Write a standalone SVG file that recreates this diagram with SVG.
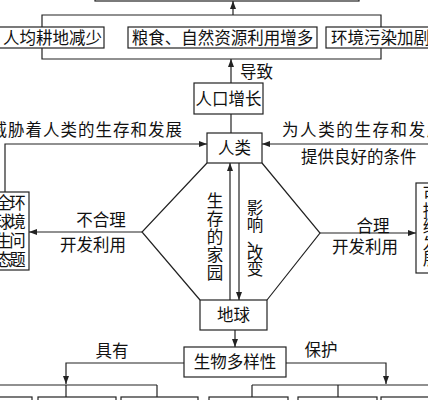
<svg xmlns="http://www.w3.org/2000/svg" width="428" height="400" viewBox="0 0 428 400">
<style>
rect{fill:#fff;stroke:#222;stroke-width:1.2}
.c path{fill:none;stroke:#222;stroke-width:1.2}
text{font-family:"Noto Sans CJK SC","Noto Sans",sans-serif;font-size:16.5px;fill:#111}
.m{text-anchor:middle}
.s{font-size:14px}
</style>
<defs>
<marker id="a" viewBox="0 0 8 6" refX="8" refY="3" markerWidth="8" markerHeight="6" markerUnits="userSpaceOnUse" orient="auto"><path d="M0,0L8,3L0,6z" fill="#222"/></marker>
</defs>
<g class="c" id="connectors">
<path d="M233,15V1" marker-end="url(#a)"/>
<path d="M42,27V15H381V27M42,48V59H381V48"/>
<path d="M231,83V59" marker-end="url(#a)"/>
<path d="M231,114V133"/>
<path d="M5,192V144H207" marker-end="url(#a)"/>
<path d="M428,144H262" marker-end="url(#a)"/>
<path d="M207,163L142,232L200,300M262,163L320,233L267,300"/>
<path d="M230,300V163" marker-end="url(#a)"/>
<path d="M239,163V300" marker-end="url(#a)"/>
<path d="M142,232H29" marker-end="url(#a)"/>
<path d="M320,233H416" marker-end="url(#a)"/>
<path d="M235,330V347" marker-end="url(#a)"/>
<path d="M184,363H66V384" marker-end="url(#a)"/>
<path d="M0,385H157M66,385V397M157,385V397"/>
<path d="M286,363H386V384" marker-end="url(#a)"/>
<path d="M252,385H428M252,385V397M338,385V397"/>
</g>
<g id="top"><rect x="95" y="-30" width="264" height="31"/></g>
<g id="n1"><rect x="-5" y="27" width="109" height="21"/><text x="3" y="44">人均耕地减少</text></g>
<g id="n2"><rect x="128" y="27" width="189" height="21"/><text x="222.5" y="44" class="m">粮食、自然资源利用增多</text></g>
<g id="n3"><rect x="326" y="27" width="120" height="21"/><text x="331" y="44">环境污染加剧</text></g>
<text x="240" y="78">导致</text>
<g id="n4"><rect x="194" y="83" width="69" height="31"/><text x="228.5" y="105" class="m">人口增长</text></g>
<g id="n5"><rect x="207" y="133" width="55" height="30"/><text x="234.5" y="154" class="m">人类</text></g>
<text x="183" y="136" text-anchor="end" letter-spacing="1">威胁着人类的生存和发展</text>
<text x="282" y="136" letter-spacing="1.6">为人类的生存和发展</text>
<text x="301" y="163">提供良好的条件</text>
<text x="101" y="226" class="m">不合理</text>
<text x="93" y="251" class="m">开发利用</text>
<text x="373" y="232" class="m">合理</text>
<text x="365" y="253" class="m">开发利用</text>
<g class="m">
<text x="215" y="207">生</text><text x="215" y="225">存</text><text x="215" y="243">的</text><text x="215" y="261">家</text><text x="215" y="279">园</text>
<text x="255" y="214">影</text><text x="255" y="231">响</text><text x="255" y="245">、</text><text x="255" y="259">改</text><text x="255" y="275">变</text>
</g>
<g id="n6"><rect x="-20" y="192" width="49" height="78"/>
<g class="m s"><text x="3.5" y="209">全</text><text x="17.5" y="209">环</text><text x="3.5" y="228">球</text><text x="17.5" y="228">境</text><text x="3.5" y="247">生</text><text x="17.5" y="247">问</text><text x="3.5" y="266">态</text><text x="17.5" y="266">题</text></g></g>
<g id="n7"><rect x="416" y="183" width="40" height="90"/>
<g class="m s"><text x="431" y="200">可</text><text x="431" y="217">持</text><text x="431" y="233">续</text><text x="431" y="250">发</text><text x="431" y="265">展</text></g></g>
<g id="n8"><rect x="200" y="300" width="67" height="30"/><text x="233.5" y="321" class="m">地球</text></g>
<g id="n9"><rect x="184" y="347" width="102" height="30"/><text x="235" y="368" class="m">生物多样性</text></g>
<text x="112" y="357" class="m">具有</text>
<text x="321" y="356" class="m">保护</text>
<g id="b1"><rect x="-40" y="397" width="72" height="12"/></g>
<g id="b2"><rect x="38" y="397" width="78" height="12"/></g>
<g id="b3"><rect x="121" y="397" width="77" height="12"/></g>
<g id="b4"><rect x="209" y="397" width="79" height="12"/></g>
<g id="b5"><rect x="298" y="397" width="79" height="12"/></g>
<g id="b6"><rect x="381" y="397" width="79" height="12"/></g>
</svg>
